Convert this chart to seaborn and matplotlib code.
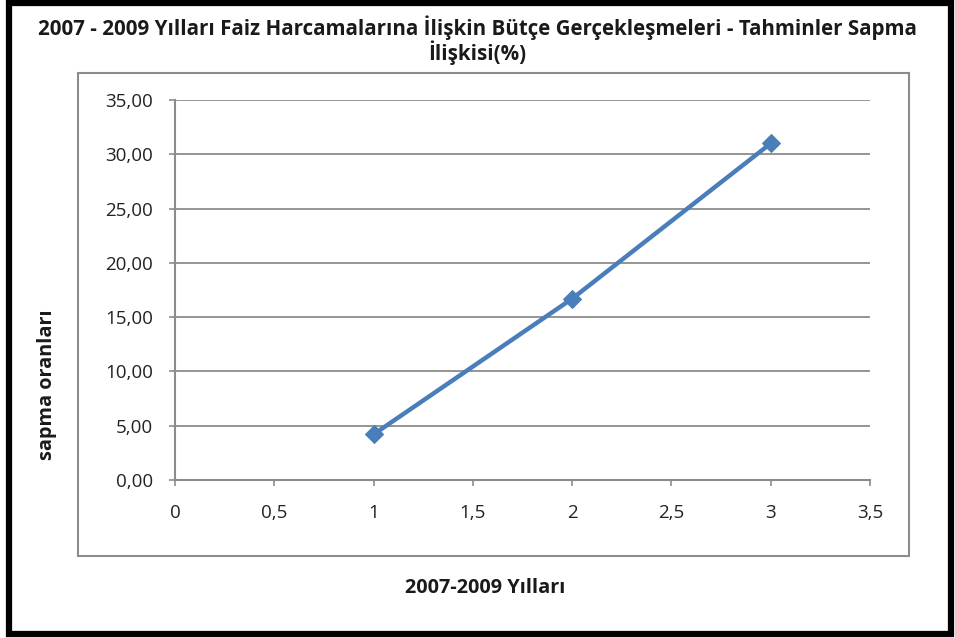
import matplotlib
matplotlib.use("Agg")
import matplotlib.pyplot as plt
import seaborn as sns
import pandas as pd
from matplotlib.patches import Rectangle
from matplotlib.ticker import FuncFormatter, MultipleLocator

years = [1, 2, 3]
sapma = [4.2, 16.7, 31.0]
title_line1 = "2007 - 2009 Yılları Faiz Harcamalarına İlişkin Bütçe Gerçekleşmeleri - Tahminler Sapma"
title_line2 = "İlişkisi(%)"
xlabel_text = "2007-2009 Yılları"
ylabel_text = "sapma oranları"

df = pd.DataFrame({"x": years, "y": sapma})

sns.set_theme(style="white")
plt.rcParams['font.family'] = ['Open Sans', 'DejaVu Sans']

W, H = 955, 638
fig = plt.figure(figsize=(W / 100, H / 100), dpi=100)
fig.patch.set_facecolor("white")

def fx(px):
    return px / W

def fy(py):
    return 1 - py / H

ax = fig.add_axes([fx(175), fy(480), fx(870) - fx(175), fy(100) - fy(480)])

sns.lineplot(data=df, x="x", y="y", ax=ax, color="#4A7EBB", linewidth=3.2,
             marker="D", markersize=9, markeredgecolor="#4A7EBB")

ax.set_xlim(0, 3.5)
ax.set_ylim(0, 35)
ax.xaxis.set_major_locator(MultipleLocator(0.5))
ax.yaxis.set_major_locator(MultipleLocator(5))
ax.xaxis.set_major_formatter(FuncFormatter(lambda v, p: (f"{v:g}").replace(".", ",")))
ax.yaxis.set_major_formatter(FuncFormatter(lambda v, p: f"{v:.2f}".replace(".", ",")))
ax.grid(axis="y", color="#8c8c8c", linewidth=1.3)
ax.grid(axis="x", visible=False)
ax.set_axisbelow(True)
for s in ["top", "right"]:
    ax.spines[s].set_visible(False)
for s in ["left", "bottom"]:
    ax.spines[s].set_color("#8c8c8c")
    ax.spines[s].set_linewidth(1.5)
ax.tick_params(axis="both", which="major", direction="out", length=4, width=1.2,
               color="#8c8c8c", labelsize=13.5, labelcolor="#222222",
               left=True, bottom=True)
ax.tick_params(axis="x", pad=13)
ax.tick_params(axis="y", pad=12)
ax.set_xlabel("")
ax.set_ylabel("")

fig.text(0.5, fy(28), title_line1, ha="center", va="center", fontsize=14.8,
         fontweight="bold", color="#1a1a1a")
fig.text(0.5, fy(53), title_line2, ha="center", va="center", fontsize=14.8,
         fontweight="bold", color="#1a1a1a")
fig.text(fx(485), fy(588), xlabel_text, ha="center", va="center", fontsize=14.3,
         fontweight="bold", color="#1a1a1a")
fig.text(fx(47), fy(385), ylabel_text, ha="center", va="center", rotation=90,
         fontsize=14.3, fontweight="bold", color="#1a1a1a")

# inner gray frame (plot area border)
fig.add_artist(Rectangle((fx(78), fy(556)), fx(909) - fx(78), fy(73) - fy(556),
                         transform=fig.transFigure, fill=False,
                         edgecolor="#8c8c8c", linewidth=1.5))
# outer black frame
fig.add_artist(Rectangle((fx(9), fy(634)), fx(951) - fx(9), fy(3) - fy(634),
                         transform=fig.transFigure, fill=False,
                         edgecolor="black", linewidth=4.5))

fig.savefig("out.png", dpi=100, facecolor="white")
